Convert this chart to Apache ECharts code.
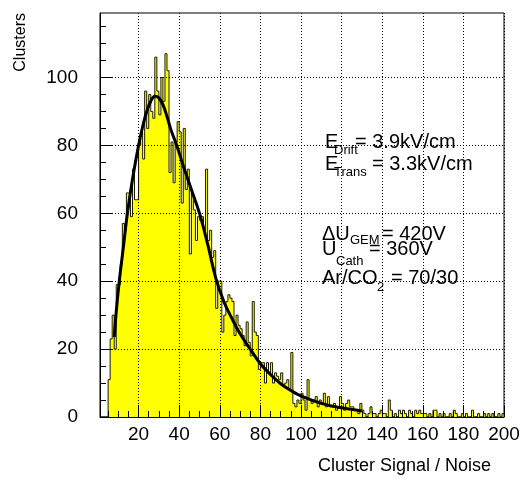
<!DOCTYPE html>
<html><head><meta charset="utf-8">
<script src="https://cdn.jsdelivr.net/npm/echarts@6/dist/echarts.min.js"></script>
<style>html,body{margin:0;padding:0;background:#fff}#c{width:526px;height:480px}</style>
</head><body><div id="c"></div>
<script>
// histogram: bins of width 1 starting at binStart
const binStart = 1;
const binWidth = 1;
const counts = [
0,0,0,0,11,23,30,20,39,39, 45,57,55,66,66,59,73,64,64,80,
84,76,96,85,95,90,88,106,96,89, 100,93,107,102,72,81,69,81,87,84,
63,85,67,73,48,66,61,52,59,58, 59,55,73,52,55,47,49,32,40,40,
25,30,34,36,35,34,24,30,27,26, 24,21,28,22,18,34,25,24,14,16,
16,10,16,13,16,10,13,12,11,13, 9,10,11,8,19,4,3,5,4,7,
5,2,11,5,4,5,6,3,5,4, 7,3,6,3,3,4,2,3,6,4,
2,4,5,3,3,2,2,1,4,2, 1,0,1,3,1,1,0,1,2,1,
1,0,5,2,0,1,0,2,1,2, 1,0,2,1,0,2,1,2,1,1,
1,0,1,0,2,2,0,1,0,1, 0,0,1,0,2,1,0,0,1,0,
1,0,0,2,0,0,1,0,0,1, 0,1,0,1,0,0,1,0,1
];
// fitted curve
const fitX = [8,9,10.5,12.5,14.5,17,20,22,24,26,28,30,32,34,36,38.8,42,46,50,54,58,62,66,70,75,80,85,90,95,100,110,120,130];
const fitY = [23.5,31,40,50,60,70,80,85.5,90,93,94.5,94,92,88.5,84.5,80,74,67,60,51,41,34,29,24.5,20,15.7,12.5,9.8,7.8,6.2,4,2.7,1.8];
const xMajor = [20,40,60,80,100,120,140,160,180,200];
const xMinor = [5,10,15,25,30,35,45,50,55,65,70,75,85,90,95,105,110,115,125,130,135,145,150,155,165,170,175,185,190,195];
const yMajor = [0,20,40,60,80,100];
const yMinor = [5,10,15,25,30,35,45,50,55,65,70,75,85,90,95,105,110,115];
const xRange = [1, 200];
const yRange = [0, 119];

const histPts = counts.map((v,i)=>[binStart + i*binWidth, v]);
histPts.push([binStart + counts.length*binWidth, 0]);
const fitPts = fitX.map((x,i)=>[x, fitY[i]]);

const FONT = 'Liberation Sans, Arial, sans-serif';
const chart = echarts.init(document.getElementById('c'), null, {renderer:'canvas'});
const dotted = {color:'#000', width:1, type:[1,2]};
function t(x, y, text, size, align){
  return {type:'text', x:x, y:y, z:50, style:{text:text, font:size+'px '+FONT, fill:'#000', align:align||'left', verticalAlign:'middle'}};
}
chart.setOption({
  animation:false,
  backgroundColor:'#fff',
  grid:{left:100, right:22, top:13, bottom:63, show:true, borderColor:'#000', borderWidth:1, backgroundColor:'transparent'},
  xAxis:[
    {type:'value', min:xRange[0], max:xRange[1], position:'bottom', z:5,
     axisLine:{show:true, lineStyle:{color:'#000', width:1}},
     axisTick:{show:true, inside:true, length:12, customValues:xMajor, lineStyle:{color:'#000'}},
     axisLabel:{customValues:xMajor, fontSize:19, fontFamily:FONT, color:'#000', margin:8},
     splitLine:{show:true, lineStyle:dotted}},
    {type:'value', min:xRange[0], max:xRange[1], position:'bottom', z:5,
     axisLine:{show:false}, axisLabel:{show:false}, splitLine:{show:false},
     axisTick:{show:true, inside:true, length:6, customValues:xMinor, lineStyle:{color:'#000'}}}
  ],
  yAxis:[
    {type:'value', min:yRange[0], max:yRange[1], position:'left', z:5,
     axisLine:{show:true, lineStyle:{color:'#000', width:1}},
     axisTick:{show:true, inside:true, length:12, customValues:yMajor, lineStyle:{color:'#000'}},
     axisLabel:{customValues:yMajor, fontSize:19, fontFamily:FONT, color:'#000', margin:22},
     splitLine:{show:true, lineStyle:dotted}},
    {type:'value', min:yRange[0], max:yRange[1], position:'left', z:5,
     axisLine:{show:false}, axisLabel:{show:false}, splitLine:{show:false},
     axisTick:{show:true, inside:true, length:6, customValues:yMinor, lineStyle:{color:'#000'}}}
  ],
  series:[
    {type:'line', data:histPts, step:'end', symbol:'none', z:2,
     lineStyle:{color:'#1a1a00', width:1}, areaStyle:{color:'#ffff00', opacity:1}},
    {type:'line', data:fitPts, smooth:0.4, symbol:'none', z:10,
     lineStyle:{color:'#000', width:3}}
  ],
  graphic:[
    t(491, 466, 'Cluster Signal / Noise', 18, 'right'),
    {type:'text', x:21, y:13, rotation:Math.PI/2, style:{text:'Clusters', font:'16px '+FONT, fill:'#000', align:'right', verticalAlign:'middle'}},

    t(325, 142, 'E', 20), t(334, 150, 'Drift', 13), t(355, 142, '= 3.9kV/cm', 20),
    t(325, 164, 'E', 20), t(334, 172, 'Trans', 13), t(372, 164, '= 3.3kV/cm', 20),
    t(322, 234, '\u0394U', 20), t(350, 240, 'GEM', 13), t(382, 234, '= 420V', 20),
    t(322, 249, 'U', 20), t(336, 261, 'Cath', 13), t(369, 249, '= 360V', 20),
    t(322, 278, 'Ar/CO', 20), t(377, 287, '2', 13), t(391, 278, '= 70/30', 20)
  ]
});
</script></body></html>
